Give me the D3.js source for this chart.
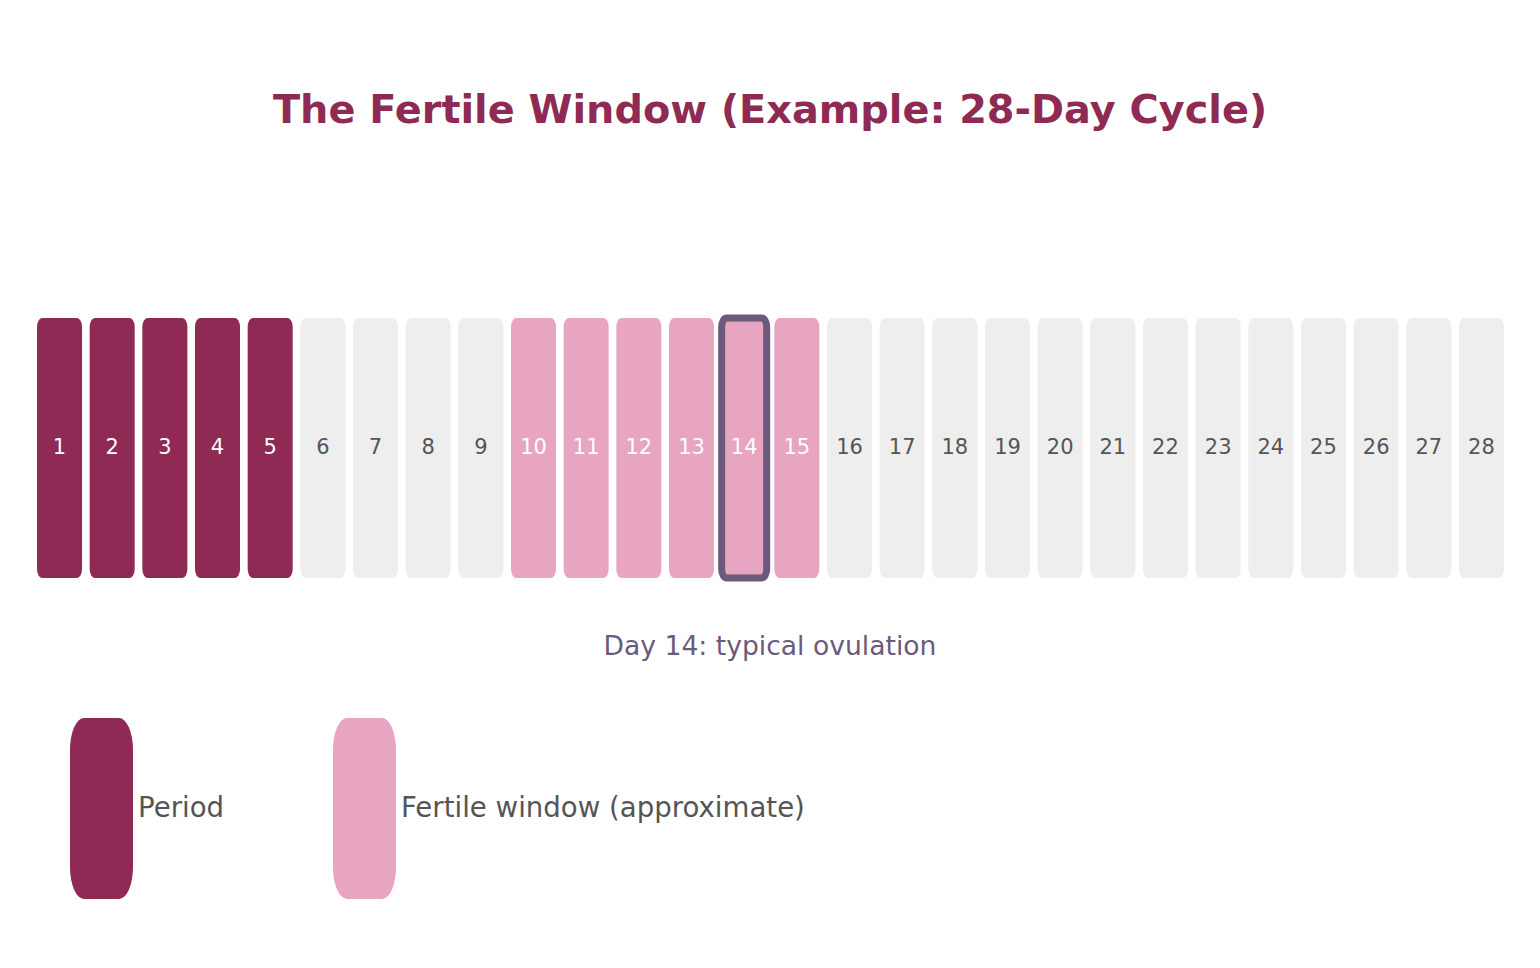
<!DOCTYPE html>
<html lang="en">
<head>
<meta charset="UTF-8">
<title>The Fertile Window</title>
<script src="https://d3js.org/d3.v7.min.js"></script>
<style>
    body { margin: 0; background: #fff; }
    svg text { font-family: "DejaVu Sans", sans-serif; }
</style>
</head>
<body>
<div id="chart"></div>
<script>
    // days of the cycle and what each one is
    const days = d3.range(1, 29);
    const periodDays = [1, 2, 3, 4, 5];
    const fertileDays = [10, 11, 12, 13, 14, 15];
    const ovulationDay = 14;
    const legendLabels = ["Period", "Fertile window (approximate)"];

    const colors = { period: "#8E2A53", fertile: "#E8A5C1", other: "#EEEEEE", ovulation: "#6B5A7B" };

    const width = 1540, height = 968;

    const svg = d3.select("#chart")
        .append("svg")
        .attr("width", width)
        .attr("height", height);

    const kind = d => periodDays.includes(d) ? "period" : fertileDays.includes(d) ? "fertile" : "other";

    // title
    svg.append("text")
        .attr("x", width / 2)
        .attr("y", 123)
        .attr("text-anchor", "middle")
        .style("font-size", "39.8px")
        .style("font-weight", "bold")
        .style("fill", colors.period)
        .text("The Fertile Window (Example: 28-Day Cycle)");

    const x = d3.scaleBand()
        .domain(days)
        .range([37, 1504])
        .paddingInner(0.145)
        .paddingOuter(0);

    const y0 = 318, cellH = 260;

    const cells = svg.append("g").selectAll("g")
        .data(days).enter()
        .append("g");

    cells.append("rect")
        .attr("x", d => x(d))
        .attr("y", y0)
        .attr("width", x.bandwidth())
        .attr("height", cellH)
        .attr("rx", 5)
        .attr("ry", 9)
        .attr("fill", d => colors[kind(d)]);

    cells.append("text")
        .attr("x", d => x(d) + x.bandwidth() / 2)
        .attr("y", 454)
        .attr("text-anchor", "middle")
        .style("font-size", "21px")
        .style("fill", d => kind(d) === "other" ? "#555555" : "#ffffff")
        .text(d => d);

    // ovulation outline
    svg.append("rect")
        .attr("x", x(ovulationDay))
        .attr("y", y0)
        .attr("width", x.bandwidth())
        .attr("height", cellH)
        .attr("rx", 5)
        .attr("ry", 9)
        .attr("fill", "none")
        .attr("stroke", colors.ovulation)
        .attr("stroke-width", 7);

    svg.append("text")
        .attr("x", width / 2)
        .attr("y", 655)
        .attr("text-anchor", "middle")
        .style("font-size", "26.6px")
        .style("fill", colors.ovulation)
        .text(`Day ${ovulationDay}: typical ovulation`);

    // legend
    const legendX = [70, 333];
    const legendColors = [colors.period, colors.fertile];
    const legend = svg.append("g").selectAll("g")
        .data(legendLabels).enter()
        .append("g")
        .attr("transform", (d, i) => `translate(${legendX[i]}, 718)`);

    legend.append("rect")
        .attr("width", 63)
        .attr("height", 181)
        .attr("rx", 14)
        .attr("ry", 32)
        .attr("fill", (d, i) => legendColors[i]);

    legend.append("text")
        .attr("x", 68)
        .attr("y", 99)
        .style("font-size", "27.6px")
        .style("fill", "#555555")
        .text(d => d);
</script>
</body>
</html>
